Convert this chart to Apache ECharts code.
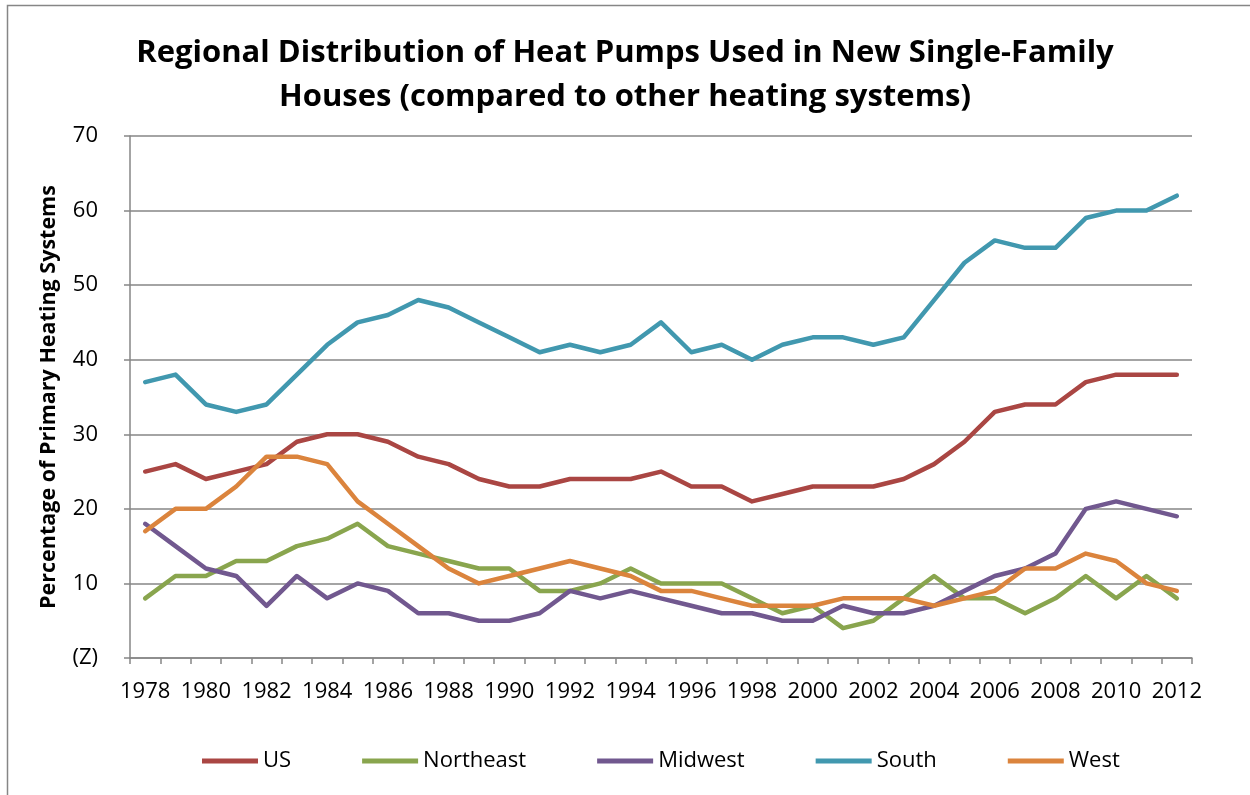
<!DOCTYPE html>
<html>
<head>
<meta charset="utf-8">
<script src="https://cdn.jsdelivr.net/npm/echarts@6/dist/echarts.min.js"></script>
<style>
  html, body { margin: 0; padding: 0; background: #fff; }
  #main { width: 1250px; height: 795px; }
</style>
</head>
<body>
<div id="main"></div>
<script>
// years on the category axis
const years = [];
for (let y = 1978; y <= 2012; y++) years.push(String(y));

// percentage of primary heating systems
const us        = [25, 26, 24, 25, 26, 29, 30, 30, 29, 27, 26, 24, 23, 23, 24, 24, 24, 25, 23, 23, 21, 22, 23, 23, 23, 24, 26, 29, 33, 34, 34, 37, 38, 38, 38];
const northeast = [8, 11, 11, 13, 13, 15, 16, 18, 15, 14, 13, 12, 12, 9, 9, 10, 12, 10, 10, 10, 8, 6, 7, 4, 5, 8, 11, 8, 8, 6, 8, 11, 8, 11, 8];
const midwest   = [18, 15, 12, 11, 7, 11, 8, 10, 9, 6, 6, 5, 5, 6, 9, 8, 9, 8, 7, 6, 6, 5, 5, 7, 6, 6, 7, 9, 11, 12, 14, 20, 21, 20, 19];
const south     = [37, 38, 34, 33, 34, 38, 42, 45, 46, 48, 47, 45, 43, 41, 42, 41, 42, 45, 41, 42, 40, 42, 43, 43, 42, 43, 48, 53, 56, 55, 55, 59, 60, 60, 62];
const west      = [17, 20, 20, 23, 27, 27, 26, 21, 18, 15, 12, 10, 11, 12, 13, 12, 11, 9, 9, 8, 7, 7, 7, 8, 8, 8, 7, 8, 9, 12, 12, 14, 13, 10, 9];

const chart = echarts.init(document.getElementById('main'));

const font = '"Open Sans", "Noto Sans", sans-serif';
const gridGrey = '#868686';

const mk = (name, data, color) => ({
    name: name,
    type: 'line',
    data: data,
    showSymbol: false,
    symbol: 'none',
    lineStyle: { width: 4.5, color: color, cap: 'round', join: 'round' },
    itemStyle: { color: color },
    animation: false
});

const option = {
    backgroundColor: '#fff',
    textStyle: { fontFamily: font },
    title: {
        text: 'Regional Distribution of Heat Pumps Used in New Single-Family\nHouses (compared to other heating systems)',
        left: 'center',
        top: 26,
        padding: [5, 0, 5, 14],
        textStyle: {
            fontFamily: font,
            fontSize: 31,
            fontWeight: 'bold',
            color: '#000',
            lineHeight: 44
        }
    },
    graphic: [{
        type: 'rect',
        shape: { x: 7.5, y: 5.5, width: 1300, height: 900 },
        style: { fill: 'none', stroke: gridGrey, lineWidth: 1.5 },
        silent: true
    }],
    legend: {
        left: 197,
        top: 745,
        icon: 'rect',
        itemWidth: 56,
        itemHeight: 5,
        itemGap: 71,
        textStyle: { fontFamily: font, fontSize: 22, color: '#000' }
    },
    grid: { left: 130, right: 58, top: 136, bottom: 137 },
    xAxis: {
        type: 'category',
        data: years,
        boundaryGap: true,
        axisLine: { lineStyle: { color: gridGrey, width: 1.5 } },
        axisTick: { show: true, length: 6, interval: 0, lineStyle: { color: gridGrey, width: 1.5 } },
        axisLabel: {
            interval: 1,
            margin: 23,
            fontFamily: font,
            fontSize: 22,
            color: '#000'
        },
        splitLine: { show: false }
    },
    yAxis: {
        type: 'value',
        min: 0,
        max: 70,
        interval: 10,
        name: 'Percentage of Primary Heating Systems',
        nameLocation: 'middle',
        nameGap: 70,
        nameTextStyle: { fontFamily: font, fontSize: 21.5, fontWeight: 'bold', color: '#000' },
        axisLine: { show: true, lineStyle: { color: gridGrey, width: 1.5 } },
        axisTick: { show: true, length: 6, lineStyle: { color: gridGrey, width: 1.5 } },
        axisLabel: {
            margin: 32,
            fontFamily: font,
            fontSize: 22,
            color: '#000',
            formatter: v => (v === 0 ? '(Z)' : String(v))
        },
        splitLine: { lineStyle: { color: gridGrey, width: 1.5 } }
    },
    series: [
        mk('US', us, '#AA4643'),
        mk('Northeast', northeast, '#89A54E'),
        mk('Midwest', midwest, '#71588F'),
        mk('South', south, '#4198AF'),
        mk('West', west, '#DB843D')
    ]
};

chart.setOption(option);

window.addEventListener('resize', () => {
    chart.resize();
});
</script>
</body>
</html>
